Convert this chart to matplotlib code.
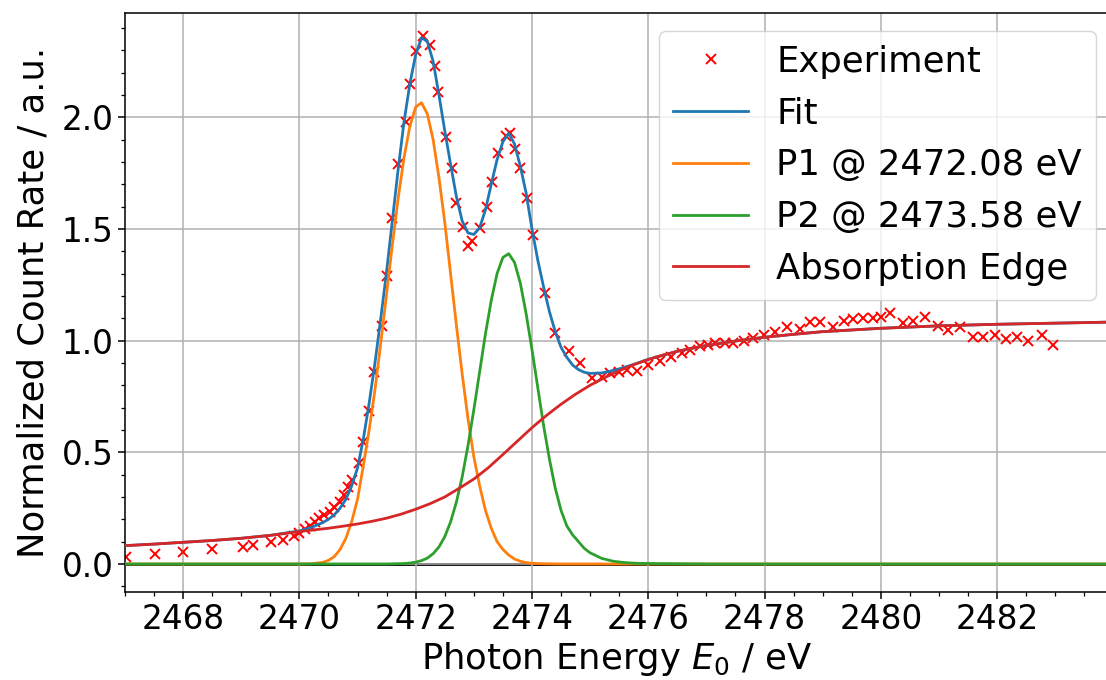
import numpy as np
import matplotlib
matplotlib.use("Agg")
from matplotlib import pyplot as plt
from matplotlib.ticker import MultipleLocator

# measured points
exp_e = [2467.02, 2467.52, 2468.00, 2468.49, 2469.03, 2469.20, 2469.51, 2469.72, 2469.90, 2470.00,
         2470.10, 2470.18, 2470.27, 2470.34, 2470.42, 2470.52, 2470.60, 2470.69, 2470.76, 2470.84,
         2470.90, 2471.02, 2471.10, 2471.20, 2471.29, 2471.42, 2471.51, 2471.59, 2471.69, 2471.83,
         2471.90, 2472.00, 2472.13, 2472.24, 2472.33, 2472.39, 2472.52, 2472.62, 2472.70, 2472.82,
         2472.90, 2472.97, 2473.11, 2473.22, 2473.31, 2473.41, 2473.55, 2473.62, 2473.71, 2473.80,
         2473.92, 2474.02, 2474.23, 2474.40, 2474.63, 2474.82, 2475.03, 2475.20, 2475.34, 2475.49,
         2475.63, 2475.80, 2476.00, 2476.20, 2476.40, 2476.58, 2476.72, 2476.89, 2477.03, 2477.15,
         2477.32, 2477.46, 2477.64, 2477.81, 2477.99, 2478.18, 2478.38, 2478.61, 2478.78, 2478.95,
         2479.18, 2479.36, 2479.53, 2479.70, 2479.87, 2480.01, 2480.16, 2480.38, 2480.56, 2480.76,
         2480.99, 2481.16, 2481.36, 2481.59, 2481.76, 2481.96, 2482.16, 2482.34, 2482.54, 2482.77,
         2482.97]
exp_v = [0.033, 0.043, 0.054, 0.066, 0.078, 0.084, 0.100, 0.108, 0.125, 0.140,
         0.158, 0.172, 0.190, 0.204, 0.219, 0.234, 0.254, 0.279, 0.309, 0.343,
         0.376, 0.451, 0.548, 0.684, 0.858, 1.065, 1.290, 1.547, 1.789, 1.980,
         2.147, 2.296, 2.363, 2.323, 2.229, 2.114, 1.913, 1.771, 1.615, 1.507,
         1.425, 1.445, 1.503, 1.600, 1.711, 1.838, 1.916, 1.928, 1.856, 1.771,
         1.637, 1.473, 1.212, 1.033, 0.955, 0.900, 0.831, 0.836, 0.854, 0.861,
         0.868, 0.865, 0.891, 0.910, 0.928, 0.946, 0.958, 0.976, 0.980, 0.990,
         0.988, 0.990, 0.999, 1.010, 1.025, 1.040, 1.062, 1.050, 1.085, 1.085,
         1.062, 1.089, 1.095, 1.100, 1.100, 1.104, 1.122, 1.080, 1.089, 1.104,
         1.065, 1.047, 1.059, 1.015, 1.015, 1.025, 1.006, 1.015, 1.000, 1.025,
         0.980]

# fit curve (sum of components)
fit_e = [2467.0, 2467.5, 2468.0, 2468.5, 2469.0, 2469.5, 2470.0, 2470.2, 2470.4, 2470.5,
         2470.6, 2470.7, 2470.8, 2470.9, 2471.0, 2471.1, 2471.2, 2471.3, 2471.4, 2471.5,
         2471.6, 2471.7, 2471.8, 2471.9, 2472.0, 2472.1, 2472.2, 2472.3, 2472.4, 2472.5,
         2472.6, 2472.7, 2472.8, 2472.9, 2473.0, 2473.1, 2473.2, 2473.3, 2473.4, 2473.5,
         2473.6, 2473.7, 2473.8, 2473.9, 2474.0, 2474.1, 2474.2, 2474.3, 2474.4, 2474.5,
         2474.6, 2474.7, 2474.8, 2474.9, 2475.0, 2475.2, 2475.4, 2475.6, 2475.8, 2476.0,
         2476.5, 2477.0, 2477.5, 2478.0, 2478.5, 2479.0, 2480.0, 2481.0, 2482.0, 2483.0,
         2484.0]
fit_v = [0.082, 0.089, 0.097, 0.105, 0.115, 0.128, 0.148, 0.163, 0.185, 0.200,
         0.220, 0.250, 0.290, 0.350, 0.430, 0.560, 0.720, 0.900, 1.100, 1.310,
         1.540, 1.770, 1.980, 2.150, 2.280, 2.355, 2.340, 2.250, 2.100, 1.940,
         1.790, 1.645, 1.535, 1.482, 1.475, 1.505, 1.585, 1.700, 1.810, 1.890,
         1.928, 1.880, 1.780, 1.660, 1.500, 1.360, 1.240, 1.130, 1.040, 0.970,
         0.925, 0.890, 0.870, 0.858, 0.853, 0.855, 0.866, 0.881, 0.898, 0.916,
         0.952, 0.978, 0.998, 1.015, 1.028, 1.040, 1.055, 1.066, 1.073, 1.078,
         1.083]

# peak 1
p1_e = [2467.0, 2470.0, 2470.2, 2470.4, 2470.5, 2470.6, 2470.7, 2470.8, 2470.9, 2471.0,
        2471.1, 2471.2, 2471.3, 2471.4, 2471.5, 2471.6, 2471.7, 2471.8, 2471.9, 2472.0,
        2472.1, 2472.2, 2472.3, 2472.4, 2472.5, 2472.6, 2472.7, 2472.8, 2472.9, 2473.0,
        2473.1, 2473.2, 2473.3, 2473.4, 2473.5, 2473.6, 2473.7, 2473.8, 2473.9, 2474.0,
        2474.2, 2474.5, 2484.0]
p1_v = [0.0, 0.0, 0.001, 0.007, 0.016, 0.033, 0.065, 0.115, 0.19, 0.29,
        0.44, 0.60, 0.78, 0.99, 1.21, 1.43, 1.64, 1.82, 1.96, 2.045,
        2.065, 2.015, 1.90, 1.73, 1.53, 1.30, 1.07, 0.85, 0.65, 0.48,
        0.35, 0.24, 0.16, 0.10, 0.065, 0.04, 0.022, 0.012, 0.006, 0.003,
        0.001, 0.0, 0.0]

# peak 2
p2_e = [2467.0, 2471.5, 2471.8, 2471.9, 2472.0, 2472.1, 2472.2, 2472.3, 2472.4, 2472.5,
        2472.6, 2472.7, 2472.8, 2472.9, 2473.0, 2473.1, 2473.2, 2473.3, 2473.4, 2473.5,
        2473.6, 2473.7, 2473.8, 2473.9, 2474.0, 2474.1, 2474.2, 2474.3, 2474.4, 2474.5,
        2474.6, 2474.7, 2474.8, 2474.9, 2475.0, 2475.2, 2475.4, 2475.6, 2475.8, 2476.0,
        2476.5, 2477.0, 2484.0]
p2_v = [0.0, 0.0, 0.002, 0.004, 0.008, 0.015, 0.026, 0.046, 0.076, 0.122,
        0.188, 0.277, 0.39, 0.53, 0.69, 0.86, 1.03, 1.18, 1.30, 1.372,
        1.389, 1.35, 1.257, 1.12, 0.96, 0.79, 0.62, 0.47, 0.34, 0.24,
        0.17, 0.13, 0.10, 0.07, 0.05, 0.025, 0.012, 0.006, 0.003, 0.002,
        0.001, 0.0, 0.0]

# absorption edge
edge_e = [2467.0, 2467.5, 2468.0, 2468.5, 2469.0, 2469.5, 2470.0, 2470.5, 2470.75, 2471.0,
          2471.25, 2471.5, 2471.75, 2472.0, 2472.25, 2472.5, 2472.75, 2473.0, 2473.25, 2473.5,
          2473.75, 2474.0, 2474.25, 2474.5, 2474.75, 2475.0, 2475.25, 2475.5, 2475.75, 2476.0,
          2476.25, 2476.5, 2476.75, 2477.0, 2477.5, 2478.0, 2478.5, 2479.0, 2480.0, 2481.0,
          2482.0, 2483.0, 2484.0]
edge_v = [0.082, 0.089, 0.097, 0.105, 0.115, 0.128, 0.145, 0.160, 0.169, 0.179,
          0.191, 0.205, 0.223, 0.245, 0.270, 0.300, 0.339, 0.380, 0.431, 0.490,
          0.550, 0.610, 0.665, 0.715, 0.760, 0.800, 0.834, 0.865, 0.892, 0.915,
          0.935, 0.952, 0.966, 0.978, 0.998, 1.015, 1.028, 1.040, 1.055, 1.066,
          1.073, 1.078, 1.083]

p1_center = 2472.08
p2_center = 2473.58

plt.rcParams['font.size'] = 23.5

fig = plt.figure(figsize=(11.06, 6.8), dpi=100)
# right edge of the axes runs just past the canvas, as in the original crop
ax = fig.add_axes([0.1130, 0.1299, 0.8884, 0.8515])

ax.axhline(0, color='k', lw=2, zorder=1)
ax.plot(exp_e, exp_v, 'x', color='red', ms=7.5, mew=1.4, label='Experiment', zorder=2)
ax.plot(fit_e, fit_v, color='C0', lw=2, label='Fit', zorder=3)
ax.plot(p1_e, p1_v, color='C1', lw=2, label='P1 @ %.2f eV' % p1_center, zorder=3)
ax.plot(p2_e, p2_v, color='C2', lw=2, label='P2 @ %.2f eV' % p2_center, zorder=3)
ax.plot(edge_e, edge_v, color='C3', lw=2, label='Absorption Edge', zorder=3)

ax.set_xlim(2467, 2483.9)
ax.set_ylim(-0.124, 2.468)
ax.xaxis.set_major_locator(MultipleLocator(2))
ax.xaxis.set_minor_locator(MultipleLocator(0.5))
ax.yaxis.set_major_locator(MultipleLocator(0.5))
ax.yaxis.set_minor_locator(MultipleLocator(0.1))
ax.tick_params(which='major', length=4.8, width=1.1, labelsize=23.5)
ax.tick_params(which='minor', length=2.8, width=0.9)
for s in ax.spines.values():
    s.set_linewidth(1.1)
ax.grid(True, which='major', color='#b0b0b0', lw=1.1)

ax.set_xlabel('Photon Energy $E_0$ / eV', fontsize=25.5, labelpad=3)
ax.set_ylabel('Normalized Count Rate / a.u.', fontsize=25.5, labelpad=8)

ax.legend(loc='upper right', bbox_to_anchor=(1096/1106, 1 - 30.7/680),
          bbox_transform=fig.transFigure, borderaxespad=0, handlelength=2.1,
          fontsize=25.5)

fig.savefig('out.png', dpi=100)
